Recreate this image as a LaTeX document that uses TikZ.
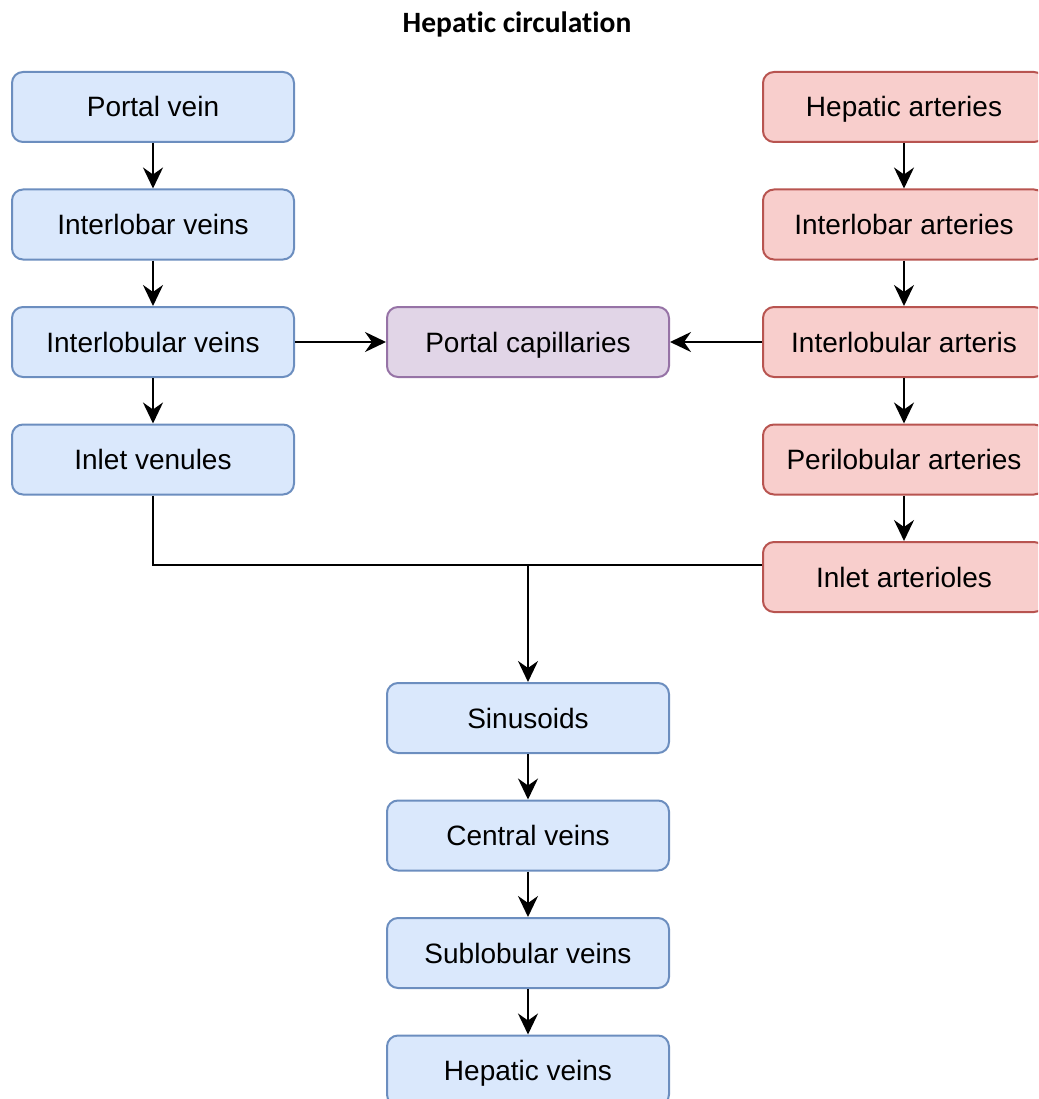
\documentclass[tikz,border=0pt]{standalone}
\usepackage{fontspec}
\setmainfont{Liberation Sans}
\newfontfamily\titlefont[Ligatures=NoCommon]{Carlito}
\usetikzlibrary{arrows.meta,positioning,calc}
\definecolor{bluefill}{HTML}{DAE8FC}
\definecolor{bluedraw}{HTML}{6C8EBF}
\definecolor{redfill}{HTML}{F8CECC}
\definecolor{reddraw}{HTML}{B85450}
\definecolor{purpfill}{HTML}{E1D5E7}
\definecolor{purpdraw}{HTML}{9673A6}
\tikzset{
  box/.style={rectangle, rounded corners=11pt, minimum width=282pt, minimum height=70pt,
    line width=2pt, inner sep=0pt, text height=20pt, text depth=0pt,
    font=\fontsize{28}{32}\selectfont},
  bluebox/.style={box, fill=bluefill, draw=bluedraw},
  redbox/.style={box, fill=redfill, draw=reddraw},
  purpbox/.style={box, fill=purpfill, draw=purpdraw},
  conn/.style={line width=2.2pt, -{Stealth[length=21pt,width=20pt,inset=7pt]}},
  plain/.style={line width=2.2pt},
}
\begin{document}
\begin{tikzpicture}[x=1pt,y=-1pt]
\useasboundingbox (0,0) rectangle (1038,1099);
\clip (0,0) rectangle (1038,1099);
\node[font=\titlefont\bfseries\fontsize{29.5}{34}\selectfont, anchor=base] (title) at (517,33) {Hepatic circulation};

\node[bluebox] (portal) at (153,107) {Portal vein};
\node[bluebox] (ilveins) at (153,224.5) {Interlobar veins};
\node[bluebox] (iluveins) at (153,342) {Interlobular veins};
\node[bluebox] (venules) at (153,459.5) {Inlet venules};

\node[redbox] (hart) at (904,107) {Hepatic arteries};
\node[redbox] (ilart) at (904,224.5) {Interlobar arteries};
\node[redbox] (iluart) at (904,342) {Interlobular arteris};
\node[redbox] (periart) at (904,459.5) {Perilobular arteries};
\node[redbox] (arterioles) at (904,577) {Inlet arterioles};

\node[purpbox] (portcap) at (528,342) {Portal capillaries};

\node[bluebox] (sinus) at (528,718) {Sinusoids};
\node[bluebox] (central) at (528,835.5) {Central veins};
\node[bluebox] (sublob) at (528,953) {Sublobular veins};
\node[bluebox] (hveins) at (528,1070.5) {Hepatic veins};

\coordinate (junction) at (528,565);

\draw[conn] (portal) -- (ilveins);
\draw[conn] (ilveins) -- (iluveins);
\draw[conn] (iluveins) -- (venules);
\draw[conn] (hart) -- (ilart);
\draw[conn] (ilart) -- (iluart);
\draw[conn] (iluart) -- (periart);
\draw[conn] (periart) -- (arterioles);
\draw[conn] (iluveins) -- (portcap);
\draw[conn] (iluart) -- (portcap);
\draw[plain] (venules.south) |- (junction);
\draw[plain] (arterioles.west |- junction) -- (junction);
\draw[conn] (junction) -- (sinus.north);
\draw[conn] (sinus) -- (central);
\draw[conn] (central) -- (sublob);
\draw[conn] (sublob) -- (hveins);
\end{tikzpicture}
\end{document}
